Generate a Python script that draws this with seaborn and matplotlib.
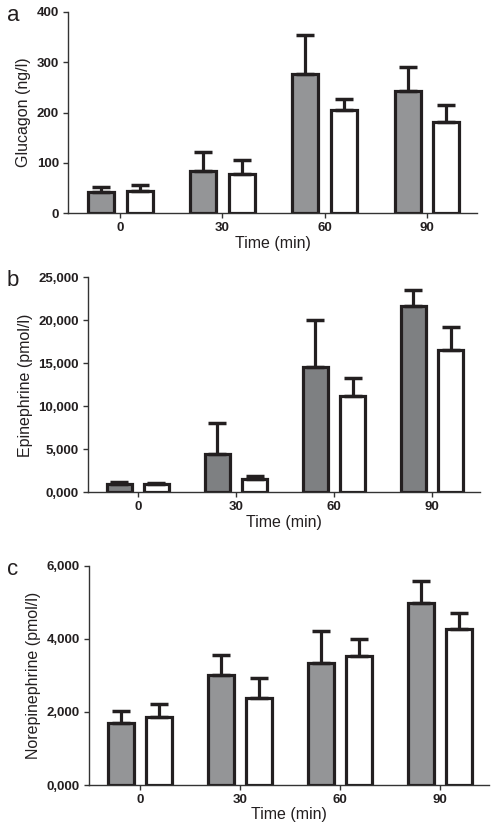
import seaborn as sns
import matplotlib.pyplot as plt
import pandas as pd

# time points (min)
times = ["0", "30", "60", "90"]
groups = ["grey", "white"]

# a - glucagon (ng/l)
glu_grey = [42, 84, 276, 243]
glu_grey_err = [11, 38, 79, 48]
glu_white = [44, 79, 205, 181]
glu_white_err = [12, 27, 23, 35]

# b - epinephrine (pmol/l)
epi_grey = [1000, 4400, 14600, 21700]
epi_grey_err = [150, 3650, 5400, 1800]
epi_white = [950, 1550, 11200, 16600]
epi_white_err = [150, 400, 2100, 2600]

# c - norepinephrine (pmol/l)
nor_grey = [1700, 3000, 3350, 4980]
nor_grey_err = [330, 550, 870, 620]
nor_white = [1870, 2370, 3530, 4280]
nor_white_err = [360, 560, 470, 420]

glu_ticks = [0, 100, 200, 300, 400]
glu_labels = ["0", "100", "200", "300", "400"]
epi_ticks = [0, 5000, 10000, 15000, 20000, 25000]
epi_labels = ["0,000", "5,000", "10,000", "15,000", "20,000", "25,000"]
nor_ticks = [0, 2000, 4000, 6000]
nor_labels = ["0,000", "2,000", "4,000", "6,000"]

sns.set_style("ticks")
plt.rcParams['font.family'] = ['Liberation Sans', 'DejaVu Sans']

fig = plt.figure(figsize=(4.96, 8.33), dpi=100)
dark = "#231f20"

panels = [
    ("a", [0.137, 0.744, 0.825, 0.2416], glu_grey, glu_grey_err, glu_white, glu_white_err,
     "Glucagon (ng/l)", glu_ticks, glu_labels, "#939598"),
    ("b", [0.177, 0.409, 0.791, 0.258], epi_grey, epi_grey_err, epi_white, epi_white_err,
     "Epinephrine (pmol/l)", epi_ticks, epi_labels, "#7d8083"),
    ("c", [0.179, 0.0576, 0.807, 0.263], nor_grey, nor_grey_err, nor_white, nor_white_err,
     "Norepinephrine (pmol/l)", nor_ticks, nor_labels, "#939598"),
]

for letter, rect, g, ge, w, we, ylab, ticks, labels, fill in panels:
    ax = fig.add_axes(rect)
    df = pd.DataFrame({
        "time": times * 2,
        "group": [groups[0]] * 4 + [groups[1]] * 4,
        "value": g + w,
        "err": ge + we,
    })
    sns.barplot(data=df, x="time", y="value", hue="group", order=times,
                hue_order=groups, palette=[fill, "white"], width=0.76, gap=0.33,
                edgecolor=dark, linewidth=2.3, errorbar=None, legend=False, ax=ax)
    # upward error bars only
    for patch, (_, row) in zip(ax.patches, df.iterrows()):
        xc = patch.get_x() + patch.get_width() / 2
        ax.errorbar(xc, row["value"], yerr=[[0], [row["err"]]], fmt="none",
                    ecolor=dark, elinewidth=2.3, capsize=6.5, capthick=2.5, zorder=1)
    ax.set_xlim(-0.51, 3.49)
    ax.set_ylim(0, ticks[-1])
    ax.set_yticks(ticks)
    ax.set_yticklabels(labels)
    ax.set_ylabel(ylab, fontsize=11.5, color="#231f20")
    ax.set_xlabel("Time (min)", fontsize=11.5, color="#231f20", labelpad=1)
    sns.despine(ax=ax)
    for s in ["left", "bottom"]:
        ax.spines[s].set_linewidth(1.0)
        ax.spines[s].set_color("#333333")
    ax.tick_params(axis="both", length=3.5, width=1, color="#333333", pad=3)
    for t in ax.get_xticklabels() + ax.get_yticklabels():
        t.set_fontweight("bold")
        t.set_fontsize(9.5)
        t.set_color(dark)
    fig.text(0.014, rect[1] + rect[3] - 0.004, letter, fontsize=16, color=dark,
             va="center", ha="left")

fig.savefig("out.png", dpi=100)
